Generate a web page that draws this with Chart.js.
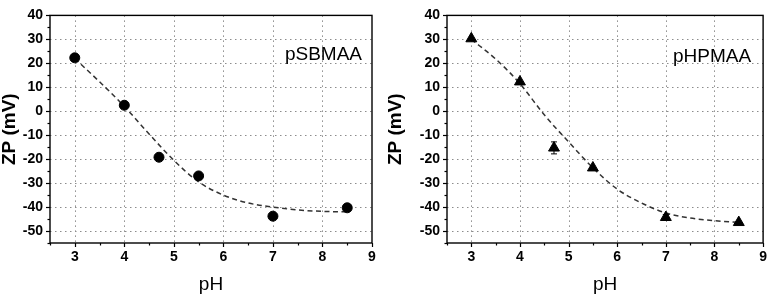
<!DOCTYPE html>
<html>
<head>
<meta charset="utf-8">
<script src="https://cdn.jsdelivr.net/npm/chart.js@4/dist/chart.umd.min.js"></script>
<style>
  html, body { margin: 0; padding: 0; background: #fff; }
  body { width: 773px; height: 295px; position: relative; overflow: hidden; }
  .box { position: absolute; top: 0; height: 295px; }
  #b1 { left: 0; width: 386px; }
  #b2 { left: 386px; width: 387px; }
</style>
</head>
<body>
<div class="box" id="b1"><canvas id="c1" width="386" height="295"></canvas></div>
<div class="box" id="b2"><canvas id="c2" width="387" height="295"></canvas></div>
<script>
// ---- data ----
const pHValues = [3, 4, 4.7, 5.5, 7, 8.5];
const zpSBMAA = [22.3, 2.5, -19.2, -27, -43.8, -40.3];
const zpHPMAA = [30.3, 12.3, -15.3, -23.6, -44.3, -46.4];
const errHPMAA = [0, 0, 2.5, 0, 1.2, 0];
const fitPH = [3, 3.5, 4, 4.5, 5, 5.5, 6, 6.5, 7, 7.5, 8, 8.5];
const fitSBMAA = [22, 12.3, 2, -9.5, -20.5, -29.5, -35, -38.3, -40, -41.2, -41.8, -42];
const fitHPMAA = [30, 21.8, 11.5, -1.5, -12.8, -23.6, -32.5, -38.3, -42.5, -44.6, -45.7, -46.4];
const xTickLabels = [3, 4, 5, 6, 7, 8, 9];
const yTickLabels = [-50, -40, -30, -20, -10, 0, 10, 20, 30, 40];
const xMinorTicks = [2.5, 3, 3.5, 4, 4.5, 5, 5.5, 6, 6.5, 7, 7.5, 8, 8.5, 9];
const yMinorTicks = [-55, -50, -45, -40, -35, -30, -25, -20, -15, -10, -5, 0, 5, 10, 15, 20, 25, 30, 35, 40];

Chart.defaults.font.family = "'Liberation Sans', Arial, sans-serif";
Chart.defaults.color = '#000';

const framePlugin = {
  id: 'frame',
  beforeDatasetsDraw(chart) {
    const {ctx, chartArea: a, scales: {x, y}} = chart;
    ctx.save();
    ctx.strokeStyle = '#8c8c8c';
    ctx.lineWidth = 1;
    ctx.setLineDash([1.5, 3.5]);
    xTickLabels.forEach(v => {
      const px = Math.round(x.getPixelForValue(v)) + 0.5;
      if (px > a.right - 2) return;
      ctx.beginPath(); ctx.moveTo(px, a.top); ctx.lineTo(px, a.bottom); ctx.stroke();
    });
    yTickLabels.forEach(v => {
      const py = Math.round(y.getPixelForValue(v)) + 0.5;
      if (py < a.top + 2) return;
      ctx.beginPath(); ctx.moveTo(a.left, py); ctx.lineTo(a.right, py); ctx.stroke();
    });
    ctx.restore();
  },
  afterDatasetsDraw(chart, args, opts) {
    const {ctx, chartArea: a, scales: {x, y}} = chart;
    ctx.save();
    // error bars
    if (opts.err) {
      ctx.strokeStyle = '#000'; ctx.lineWidth = 1;
      opts.err.forEach((e, i) => {
        if (!e) return;
        const px = x.getPixelForValue(pHValues[i]);
        const y1 = y.getPixelForValue(opts.vals[i] + e);
        const y2 = y.getPixelForValue(opts.vals[i] - e);
        ctx.beginPath();
        ctx.moveTo(px, y1); ctx.lineTo(px, y2);
        ctx.moveTo(px - 3, y1); ctx.lineTo(px + 3, y1);
        ctx.moveTo(px - 3, y2); ctx.lineTo(px + 3, y2);
        ctx.stroke();
      });
    }
    // frame
    ctx.strokeStyle = '#000';
    ctx.lineWidth = 1.4;
    ctx.strokeRect(a.left, a.top, a.right - a.left, a.bottom - a.top);
    // tick marks
    ctx.lineWidth = 1.2;
    xMinorTicks.forEach(v => {
      const px = Math.round(x.getPixelForValue(v)) + 0.5;
      const len = Number.isInteger(v) ? 4 : 2.5;
      ctx.beginPath(); ctx.moveTo(px, a.bottom); ctx.lineTo(px, a.bottom + len); ctx.stroke();
    });
    yMinorTicks.forEach(v => {
      const py = Math.round(y.getPixelForValue(v)) + 0.5;
      const len = (v % 10 === 0) ? 4 : 2.5;
      ctx.beginPath(); ctx.moveTo(a.left, py); ctx.lineTo(a.left - len, py); ctx.stroke();
    });
    // label
    ctx.fillStyle = '#000';
    ctx.font = "19px 'Liberation Sans', Arial, sans-serif";
    ctx.textAlign = 'right';
    ctx.textBaseline = 'middle';
    ctx.fillText(opts.label, a.right - opts.labelDx, a.top + opts.labelDy);
    ctx.restore();
  }
};

function makeChart(id, vals, fit, marker, radius, label, yAxisW, padR, padT, err, labelDx, labelDy) {
  return new Chart(document.getElementById(id), {
    type: 'scatter',
    data: {
      datasets: [
        {
          type: 'line',
          data: fitPH.map((p, i) => ({x: p, y: fit[i]})),
          borderColor: '#333',
          borderWidth: 1.5,
          borderDash: [5, 3.5],
          pointRadius: 0,
          cubicInterpolationMode: 'monotone',
          fill: false,
          order: 2
        },
        {
          data: pHValues.map((p, i) => ({x: p, y: vals[i]})),
          pointStyle: marker,
          pointRadius: radius,
          pointHoverRadius: radius,
          backgroundColor: '#000',
          borderColor: '#000',
          borderWidth: 1,
          order: 1
        }
      ]
    },
    options: {
      responsive: false,
      animation: false,
      devicePixelRatio: 1,
      events: [],
      layout: { padding: { top: padT, right: padR, left: 0, bottom: 0 } },
      plugins: {
        legend: { display: false },
        tooltip: { enabled: false },
        frame: { label: label, err: err, vals: vals, labelDx: labelDx, labelDy: labelDy }
      },
      scales: {
        x: {
          type: 'linear', min: 2.5, max: 9,
          afterBuildTicks: s => { s.ticks = xTickLabels.map(v => ({value: v})); },
          afterFit: s => { s.height = 52; },
          grid: { display: false, drawTicks: false },
          border: { display: false },
          ticks: { font: { size: 14, weight: 'bold' }, padding: 6, maxRotation: 0, autoSkip: false },
          title: { display: true, text: 'pH', font: { size: 19, lineHeight: 1 }, padding: { top: 0, bottom: 1 } }
        },
        y: {
          type: 'linear', min: -55, max: 40,
          afterBuildTicks: s => { s.ticks = yTickLabels.map(v => ({value: v})); },
          afterFit: s => { s.width = yAxisW; },
          grid: { display: false, drawTicks: false },
          border: { display: false },
          ticks: { font: { size: 14, weight: 'bold' }, padding: 7, autoSkip: false },
          title: { display: true, text: 'ZP (mV)', font: { size: 19, weight: 'bold', lineHeight: 1 }, padding: { top: 0, bottom: 0 } }
        }
      }
    },
    plugins: [framePlugin]
  });
}

makeChart('c1', zpSBMAA, fitSBMAA, 'circle', 5, 'pSBMAA', 50, 14, 6, null, 10, 39);
makeChart('c2', zpHPMAA, fitHPMAA, 'triangle', 6.3, 'pHPMAA', 61, 3, 7, errHPMAA, 12, 41);
</script>
</body>
</html>
